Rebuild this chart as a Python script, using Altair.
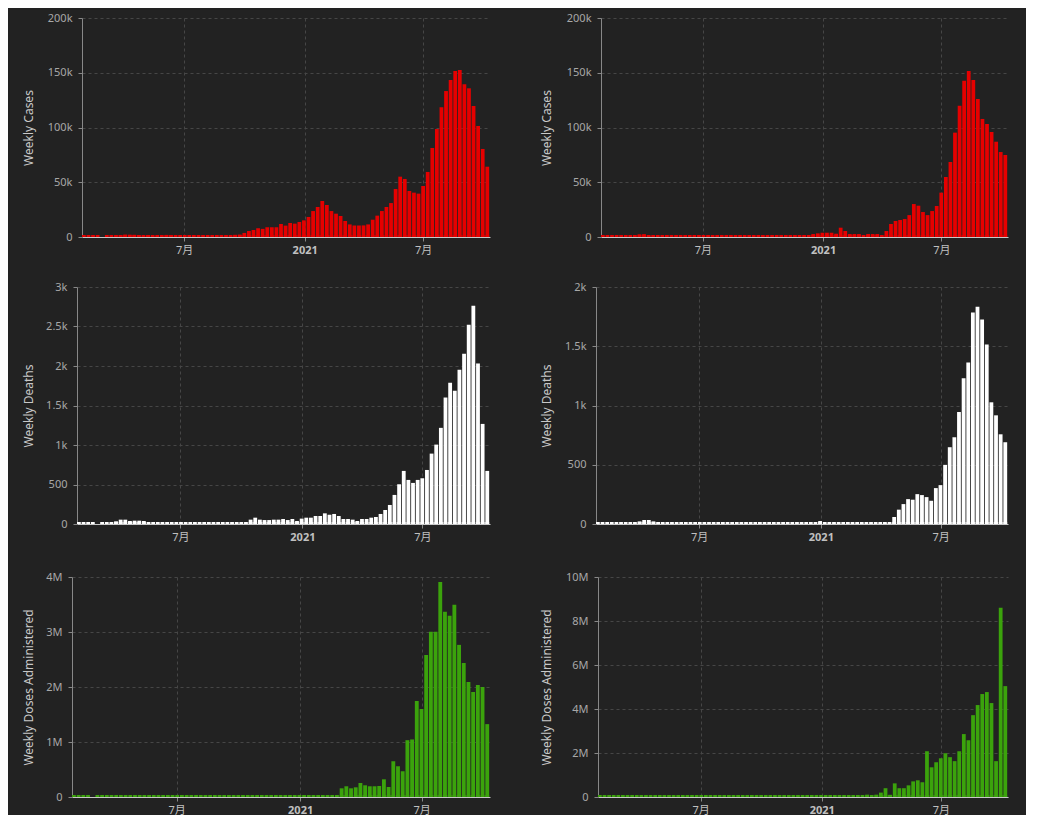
import altair as alt
import pandas as pd

# ---------------- data (weekly, 89 weeks starting 2020-01-27) ----------------
FIRST_WEEK = "2020-01-27"
N_WEEKS = 89

cases_left_k = [
    0.05, 0.05, 0.05, 0.05, None, 0.05, 0.1, 0.3,
    1.6, 2.2, 2.1, 2.0, 1.6,
    0.6, 1.8, 0.5, 0.4, 0.3, 1.9, 1.8,
    0.2, 0.1, 0.1, 0.1, 0.1, 0.1, 0.1, 0.1, 0.1, 0.2, 0.2, 0.3,
    0.4, 2.0, 2.2, 3.7, 5.5, 6.4, 8.0, 7.4, 8.9, 8.9, 8.9,
    11.9, 10.4, 12.8, 12.2, 13.7, 15.2, 18.3, 23.7, 27.4, 32.9,
    29.2, 23.7, 21.3, 19.2, 14.6, 11.5, 10.5, 10.5, 10.6, 11.5,
    15.8, 19.5, 23.7, 27.4, 31.0, 43.8, 55.1, 53.0, 42.0, 40.5,
    39.6, 46.6, 59.4, 81.3, 98.6, 118.4, 133.3, 143.4, 151.6, 152.5,
    139.4, 135.8, 119.6, 101.4, 80.4, 64.2,
]
cases_right_k = [
    0.0, 0.0, 0.0, 0.0, 0.05, 0.05, 0.1, 0.2,
    2.4, 2.6, 1.2, 0.3,
    0.2, 0.1, 0.1, 0.1, 0.05, 0.05, 0.05, 0.05, 0.05, 0.05, 0.05,
    0.05, 0.05, 0.05, 0.05, 0.05, 0.05, 0.05, 0.05, 0.05, 0.05, 0.05,
    0.05, 0.05, 0.05, 0.05, 0.05, 0.05, 0.05, 0.05, 0.1, 0.1, 0.1, 0.2,
    2.7, 3.3, 3.9, 3.9, 3.9, 3.0, 8.5, 5.5, 2.7, 2.7,
    2.7, 0.3, 2.7, 2.7, 2.7, 0.5, 5.5, 11.9, 14.6, 15.5,
    16.4, 20.0, 30.1, 28.6, 22.8, 20.0, 23.7, 28.3, 40.5, 54.8,
    68.5, 95.3, 119.9, 142.8, 151.6, 143.4, 126.0, 107.8, 103.2, 95.9,
    87.0, 77.6, 74.9,
]
deaths_left = [
    2, 2, 2, 2, None, 2, 3, 5,
    34, 55, 55, 38, 42, 42, 38,
    3, 2, 2, 2, 1, 1, 1, 2, 2, 1, 1, 1, 1, 2, 2, 1, 1, 1, 2, 3, 4, 6,
    55, 80, 55, 50, 50, 55, 55, 63, 50,
    63, 38, 68, 80, 80, 101, 101, 135, 118, 127,
    101, 63, 63, 55, 38, 63, 63, 80, 89, 127,
    177, 241, 368, 503, 672, 558, 520, 558, 579, 684,
    891, 1005, 1217, 1601, 1787, 1686, 1952, 2155, 2522, 2763,
    2032, 1267, 672,
]
deaths_right = [
    0, 0, 0, 0, 0, 0, 0, 1, 3,
    22, 34, 34, 22,
    3, 2, 1, 1, 1, 0, 0, 0, 0, 0, 0, 0, 0, 0, 0, 0, 0, 0, 0, 0, 0, 0,
    0, 0, 0, 0, 0, 0, 0, 0, 1, 1, 1, 1, 1,
    25,
    2, 2, 2, 1, 1, 1, 2, 2, 2, 1, 1, 2, 3, 4, 5,
    59, 121, 168, 210, 205, 252, 244, 227, 196, 303,
    328, 499, 648, 732, 945, 1229, 1363, 1784, 1834, 1725,
    1515, 1027, 917, 757, 690,
]
doses_left_m = [
    0, 0, 0, 0, None, 0, 0, 0, 0, 0, 0, 0, 0, 0, 0, 0, 0, 0, 0, 0,
    0, 0, 0, 0, 0, 0, 0, 0, 0, 0, 0, 0, 0, 0, 0, 0, 0, 0, 0, 0,
    0, 0, 0, 0, 0, 0, 0, 0, 0, 0, 0, 0, 0, 0, 0, 0, 0,
    0.158, 0.195, 0.158, 0.176, 0.255, 0.213, 0.195, 0.195, 0.200, 0.322,
    0.182, 0.650, 0.559, 0.468, 1.033, 1.046, 1.745, 1.600, 2.584, 3.003,
    3.003, 3.909, 3.368, 3.295, 3.495, 2.766, 2.438, 2.091, 1.909, 2.036,
    2.000, 1.325,
]
doses_right_m = [
    0, 0, 0, 0, 0, 0, 0, 0, 0, 0, 0, 0, 0, 0, 0, 0, 0, 0, 0, 0,
    0, 0, 0, 0, 0, 0, 0, 0, 0, 0, 0, 0, 0, 0, 0, 0, 0, 0, 0, 0,
    0, 0, 0, 0, 0, 0, 0, 0, 0, 0, 0, 0, 0, 0, 0, 0, 0, 0,
    0.106, 0.0, 0.106, 0.20, 0.40, 0.10, 0.62, 0.40, 0.40, 0.53,
    0.71, 0.76, 0.67, 2.08, 1.35, 1.58, 1.76, 1.99, 1.81, 1.63,
    2.08, 2.86, 2.58, 3.72, 4.18, 4.68, 4.77, 4.27, 1.63, 8.60,
    5.04,
]

x_tick_dates = [(2020, 7, 1), (2021, 1, 1), (2021, 7, 1)]
y_ticks_cases = [0, 50000, 100000, 150000, 200000]
y_ticks_deaths_left = [0, 500, 1000, 1500, 2000, 2500, 3000]
y_ticks_deaths_right = [0, 500, 1000, 1500, 2000]
y_ticks_doses_left = [0, 1e6, 2e6, 3e6, 4e6]
y_ticks_doses_right = [0, 2e6, 4e6, 6e6, 8e6, 1e7]

# ---------------- helpers ----------------
week_start = pd.date_range(FIRST_WEEK, periods=N_WEEKS, freq="7D")
week_end = week_start + pd.Timedelta(hours=138)
dom_end = week_start[-1] + pd.Timedelta(days=7)


def dt(ts):
    return alt.DateTime(year=ts.year, month=ts.month, date=ts.day)


X_DOMAIN = [dt(week_start[0]), dt(dom_end)]
X_VALUES = [alt.DateTime(year=y, month=m, date=d) for (y, m, d) in x_tick_dates]

FONT = "Noto Sans, Noto Sans CJK SC, sans-serif"
RED = "#e60000"
WHITE = "#ffffff"
GREEN = "#3ba30c"


def scale_vals(vals, k):
    return [None if v is None else v * k for v in vals]


def panel(values, color, title, y_ticks, width, height, shift, extent, pad_bottom=0):
    df = pd.DataFrame({"start": week_start, "end": week_end, "v": values})
    base = alt.Chart(df).transform_filter("isValid(datum.v)")
    x_axis_kw = dict(
        values=X_VALUES,
        tickCount=10,
        labelExpr="month(datum.value) == 0 ? timeFormat(datum.value, '%Y') : (month(datum.value) + 1) + '月'",
        labelFontWeight={"condition": {"test": "month(datum.value) == 0", "value": "bold"}, "value": "normal"},
        labelColor="#c0c0c0",
        labelFontSize=11,
        labelFont=FONT,
        labelPadding=3,
        tickSize=4,
        tickColor="#888888",
        domainColor="#c8c8c8",
        grid=True,
        gridColor="#464646",
        gridDash=[3, 3],
    )
    x_title = None
    if pad_bottom:
        x_title = " "
        x_axis_kw.update(titleFontSize=1, titlePadding=pad_bottom)
    x_enc = alt.X(
        "start:T",
        title=x_title,
        scale=alt.Scale(domain=X_DOMAIN, range=[shift, width]),
        axis=alt.Axis(**x_axis_kw),
    )
    y_scale = alt.Scale(domain=[0, y_ticks[-1]], nice=False)
    stubs = base.mark_bar(color=color, yOffset=-2).encode(
        x=x_enc,
        x2="end:T",
        y=alt.Y(datum=0, type="quantitative", scale=y_scale, title=title),
        y2=alt.Y2(datum=0),
    )
    bars = base.mark_bar(color=color).encode(
        x=x_enc,
        x2="end:T",
        y=alt.Y(
            "v:Q",
            title=title,
            scale=y_scale,
            axis=alt.Axis(
                values=y_ticks,
                tickCount=len(y_ticks) + 2,
                labelExpr="datum.value == 0 ? '0' : format(datum.value, '~s')",
                labelOverlap=False,
                labelColor="#a8a8a8",
                labelFontSize=11,
                labelFont=FONT,
                labelPadding=6,
                tickSize=4,
                tickColor="#888888",
                domainColor="#888888",
                grid=True,
                gridColor="#464646",
                gridDash=[3, 3],
                titleColor="#c8c8c8",
                titleFontSize=12,
                titleFontWeight="normal",
                titleFont=FONT,
                titlePadding=6,
                minExtent=extent,
                maxExtent=extent,
                offset=-shift,
            ),
        ),
        y2=alt.Y2(datum=0),
    )
    return alt.layer(stubs, bars).properties(width=width, height=height)


LEFT_W, RIGHT_W = 418, 412
tl = panel(scale_vals(cases_left_k, 1000), RED, "Weekly Cases", y_ticks_cases, LEFT_W, 219, 10, 41)
tr = panel(scale_vals(cases_right_k, 1000), RED, "Weekly Cases", y_ticks_cases, RIGHT_W, 219, 5, 42)
ml = panel(deaths_left, WHITE, "Weekly Deaths", y_ticks_deaths_left, LEFT_W, 237, 5, 36, pad_bottom=2)
mr = panel(deaths_right, WHITE, "Weekly Deaths", y_ticks_deaths_right, RIGHT_W, 237, 0, 37, pad_bottom=2)
bl = panel(scale_vals(doses_left_m, 1e6), GREEN, "Weekly Doses Administered", y_ticks_doses_left, LEFT_W, 220, 0, 31)
br = panel(scale_vals(doses_right_m, 1e6), GREEN, "Weekly Doses Administered", y_ticks_doses_right, RIGHT_W, 220, 2, 39)

chart = (
    alt.concat(
        tl, tr, ml, mr, bl, br,
        columns=2,
        spacing={"row": 26, "column": 50},
    )
    .properties(background="#222222", padding={"left": 14, "top": 4, "right": 18, "bottom": 0})
    .configure_view(stroke=None)
)

chart.save("out.html", embed_options={"renderer": "svg", "actions": False})
